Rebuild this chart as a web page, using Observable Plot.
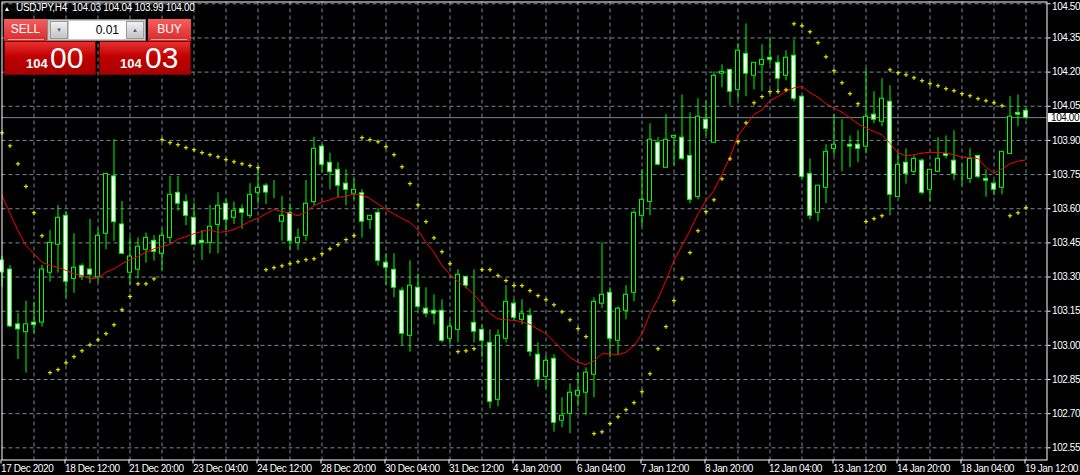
<!DOCTYPE html>
<html>
<head>
<meta charset="utf-8">
<script src="https://cdn.jsdelivr.net/npm/d3@7"></script>
<script src="https://cdn.jsdelivr.net/npm/@observablehq/plot@0.6"></script>
<style>
html, body { margin: 0; padding: 0; background: #000; }
#wrap { position: relative; width: 1080px; height: 475px; overflow: hidden; background: #000; font-family: "Liberation Sans", Arial, sans-serif; }
#wrap svg { position: absolute; left: 0; top: 0; }
#wrap svg text { letter-spacing: -0.4px; }
.abs { position: absolute; box-sizing: border-box; }
.title { left: 16px; top: 3px; font-size: 10px; line-height: 10px; color: #fff; white-space: pre; letter-spacing: -0.3px; }
.tri { left: 5px; top: 7px; width: 0; height: 0; border-left: 2.7px solid transparent; border-right: 2.7px solid transparent; border-bottom: 4px solid #fff; }
.btn { top: 19px; width: 43px; height: 22px; background: linear-gradient(#f45e5e, #d92a2a); color: #fff; font-size: 12px; line-height: 20px; text-align: center; }
.uline { top: 39px; height: 1px; width: 36px; background: #f2a5a5; }
.lot { left: 47px; top: 19px; width: 99px; height: 22px; background: #c9c9c9; border: 1px solid #8a8a8a; }
.arr { top: 21px; width: 18px; height: 18px; background: linear-gradient(#f0f0f0, #c4c4c4); border: 1px solid #9a9a9a; color: #4a5f8a; font-size: 6px; line-height: 16px; text-align: center; }
.field { left: 69px; top: 21px; width: 57px; height: 18px; background: #fff; color: #000; font-size: 12px; line-height: 18px; text-align: right; padding-right: 7px; }
.pbox { top: 41px; width: 92px; height: 34px; background: linear-gradient(#e83030, #c00000 45%, #a80000); border: 1px solid #700; }
.big { font-size: 30px; line-height: 30px; color: #fff; top: 43px; }
.small { font-size: 13px; line-height: 13px; color: #fff; font-weight: bold; top: 57px; }
.plabel { left: 1048px; width: 32px; height: 9px; background: #fff; color: #000; font-size: 10px; line-height: 9px; padding-left: 3px; letter-spacing: -0.4px; }
</style>
</head>
<body>
<div id="wrap"></div>
<script>
// ---- data (USDJPY, H4) ----
const opens = [103.373,103.333,103.092,103.058,103.100,103.100,103.319,103.442,103.569,103.292,
103.348,103.333,103.299,103.490,103.742,103.531,103.319,103.332,103.420,103.459,
103.402,103.472,103.670,103.630,103.560,103.459,103.450,103.529,103.622,103.560,
103.598,103.569,103.670,103.701,103.683,103.543,103.582,103.450,103.481,103.629,
103.873,103.802,103.771,103.710,103.666,103.668,103.550,103.582,103.363,103.332,
103.240,103.042,103.253,103.161,103.152,103.152,103.029,103.068,103.301,103.099,
103.068,103.011,102.761,103.029,103.183,103.112,103.130,102.959,102.862,102.941,
102.669,102.699,102.779,102.792,102.871,103.183,103.231,103.020,103.152,103.231,
103.569,103.630,103.890,103.780,103.912,103.912,103.832,103.652,103.991,103.890,
104.193,104.210,104.122,104.280,104.184,104.232,104.263,104.241,104.184,104.272,
104.092,103.753,103.582,103.692,103.863,103.890,103.881,103.881,103.873,104.013,
103.982,104.070,103.651,103.802,103.762,103.811,103.683,103.762,103.841,103.811,
103.740,103.731,103.832,103.731,103.710,103.692,103.841,104.021,104.030];

const highs = [103.390,103.351,103.141,103.194,103.190,103.351,103.504,103.614,103.588,103.490,
103.358,103.553,103.512,103.753,103.903,103.632,103.475,103.472,103.493,103.482,
103.512,103.742,103.742,103.661,103.625,103.504,103.614,103.670,103.639,103.630,
103.617,103.710,103.780,103.710,103.724,103.655,103.622,103.512,103.724,103.914,
103.882,103.844,103.802,103.771,103.731,103.684,103.569,103.600,103.402,103.402,
103.253,103.371,103.314,103.253,103.222,103.200,103.112,103.332,103.301,103.332,
103.086,103.068,103.068,103.262,103.200,103.200,103.161,103.011,102.954,102.959,
102.770,102.831,102.880,102.901,103.209,103.450,103.253,103.169,103.262,103.591,
103.771,103.973,103.912,104.013,103.920,104.100,104.021,104.083,104.070,104.201,
104.232,104.210,104.324,104.412,104.241,104.320,104.346,104.272,104.294,104.342,
104.092,103.819,103.701,103.881,104.013,103.991,103.920,103.942,104.215,104.114,
104.171,104.140,103.846,103.863,103.832,103.819,103.771,103.912,103.920,103.942,
103.797,103.863,103.832,103.771,103.723,103.850,104.092,104.100,104.040];

const lows = [103.254,103.078,102.938,102.878,103.052,103.080,103.277,103.317,103.209,103.229,
103.285,103.270,103.277,103.420,103.457,103.402,103.263,103.292,103.361,103.370,
103.329,103.446,103.589,103.526,103.440,103.373,103.402,103.402,103.501,103.531,
103.510,103.556,103.619,103.619,103.644,103.457,103.417,103.417,103.457,103.614,
103.760,103.683,103.648,103.613,103.639,103.471,103.509,103.348,103.263,103.209,
102.999,102.970,103.156,103.121,103.090,103.011,103.002,103.011,103.248,103.011,
102.945,102.721,102.730,103.011,103.112,103.090,102.950,102.816,102.808,102.619,
102.638,102.612,102.730,102.691,102.770,103.161,102.945,102.959,103.112,103.191,
103.521,103.569,103.793,103.780,103.789,103.811,103.622,103.639,103.920,103.890,
104.131,104.052,104.078,104.092,104.122,104.114,104.232,104.114,104.162,104.070,
103.731,103.551,103.543,103.622,103.832,103.762,103.780,103.802,103.841,103.973,
103.960,103.569,103.651,103.708,103.753,103.661,103.630,103.762,103.819,103.723,
103.701,103.710,103.731,103.651,103.657,103.661,103.841,103.960,103.990];

const closes = [103.320,103.083,103.070,103.092,103.089,103.333,103.450,103.560,103.279,103.341,
103.302,103.310,103.481,103.753,103.541,103.402,103.390,103.433,103.472,103.411,
103.481,103.661,103.622,103.569,103.442,103.450,103.521,103.613,103.551,103.591,
103.582,103.661,103.692,103.671,103.683,103.569,103.457,103.472,103.622,103.863,
103.793,103.760,103.701,103.683,103.683,103.543,103.569,103.371,103.341,103.253,
103.051,103.262,103.169,103.139,103.139,103.020,103.082,103.310,103.262,103.060,
103.020,102.752,103.042,103.191,103.121,103.139,102.972,102.849,102.932,102.660,
102.691,102.792,102.800,102.880,103.191,103.222,103.029,103.161,103.222,103.582,
103.639,103.903,103.793,103.903,103.920,103.819,103.639,104.004,103.951,104.184,
104.201,104.114,104.294,104.193,104.241,104.254,104.254,104.171,104.263,104.083,
103.740,103.569,103.701,103.850,103.881,103.890,103.873,103.863,104.004,103.991,
104.083,103.661,103.793,103.753,103.819,103.670,103.771,103.819,103.832,103.753,
103.740,103.819,103.740,103.723,103.683,103.850,104.004,104.013,104.000];

// Parabolic SAR
const sar = [103.933,103.876,103.797,103.698,103.582,103.481,102.880,102.893,102.923,102.950,
102.976,103.002,103.024,103.051,103.090,103.156,103.215,103.270,103.270,103.292,
103.903,103.890,103.881,103.868,103.859,103.846,103.837,103.828,103.815,103.806,
103.797,103.789,103.780,103.332,103.341,103.349,103.358,103.367,103.376,103.380,
103.402,103.424,103.442,103.464,103.481,103.912,103.903,103.894,103.872,103.837,
103.784,103.710,103.617,103.543,103.472,103.411,103.358,102.972,102.976,102.985,
103.332,103.332,103.306,103.284,103.262,103.262,103.240,103.218,103.200,103.178,
103.147,103.112,103.073,103.038,102.612,102.620,102.656,102.686,102.717,102.748,
102.796,102.875,102.985,103.082,103.196,103.292,103.407,103.503,103.587,103.639,
103.731,103.819,103.894,103.977,104.065,104.092,104.114,104.114,104.122,104.412,
104.403,104.377,104.329,104.267,104.206,104.153,104.105,104.061,103.543,103.556,
103.569,104.210,104.197,104.188,104.175,104.162,104.149,104.140,104.127,104.118,
104.105,104.096,104.083,104.074,104.065,104.052,103.569,103.582,103.604];

// Moving average
const ma = [103.658,103.579,103.504,103.439,103.402,103.365,103.351,103.343,103.329,103.314,
103.307,103.292,103.297,103.321,103.336,103.358,103.376,103.390,103.409,103.424,
103.434,103.443,103.466,103.478,103.490,103.501,103.507,103.496,103.500,103.509,
103.526,103.545,103.558,103.578,103.597,103.588,103.580,103.569,103.585,103.614,
103.629,103.639,103.651,103.654,103.666,103.660,103.645,103.621,103.597,103.577,
103.557,103.540,103.507,103.452,103.408,103.351,103.311,103.280,103.256,103.223,
103.184,103.139,103.116,103.112,103.110,103.103,103.092,103.070,103.051,103.017,
102.980,102.947,102.926,102.915,102.932,102.963,102.963,102.959,102.970,102.999,
103.051,103.139,103.204,103.285,103.373,103.439,103.504,103.578,103.636,103.680,
103.753,103.826,103.922,103.966,104.014,104.034,104.075,104.093,104.116,104.131,
104.137,104.109,104.090,104.061,104.043,104.024,103.999,103.973,103.955,103.939,
103.925,103.887,103.846,103.832,103.837,103.844,103.848,103.847,103.844,103.837,
103.826,103.824,103.821,103.782,103.756,103.775,103.797,103.809,103.815];

const yTicks = [104.50,104.35,104.20,104.05,103.90,103.75,103.60,103.45,103.30,103.15,103.00,102.85,102.70,102.55];
const xTickIdx = [0,8,16,24,32,40,48,56,64,72,80,88,96,104,112,120,128];
const xTickLabels = ["17 Dec 2020","18 Dec 12:00","21 Dec 20:00","23 Dec 04:00","24 Dec 12:00","28 Dec 20:00",
  "30 Dec 04:00","31 Dec 12:00","4 Jan 20:00","6 Jan 04:00","7 Jan 12:00","8 Jan 20:00","12 Jan 04:00",
  "13 Jan 12:00","14 Jan 20:00","18 Jan 04:00","19 Jan 12:00"];
const gridIdx = [4,8,12,16,20,24,28,32,36,40,44,48,52,56,60,64,68,72,76,80,84,88,92,96,100,104,108,112,116,120,124,128];
const symbol = "USDJPY,H4";
const lot = "0.01";
const bidPrice = 104.00, askPrice = 104.03;

// ---- build ----
const bars = opens.map((o, i) => ({i, o, h: highs[i], l: lows[i], c: closes[i], sar: sar[i], ma: ma[i]}));
const last = bars[bars.length - 1];
const topTick = yTicks[0];

const grid = "#778899";
const chart = Plot.plot({
  width: 1080,
  height: 475,
  marginLeft: 1.5,
  marginRight: 33.5,
  marginTop: 1.5,
  marginBottom: 15.5,
  style: {background: "#000", color: "#fff", fontFamily: "Liberation Sans, Arial, sans-serif", fontSize: "10px", overflow: "visible"},
  x: {domain: [0, 130.625]},
  y: {domain: [102.4965, 104.5079]},
  marks: [
    Plot.ruleY(yTicks, {stroke: grid, strokeDasharray: "4,3"}),
    Plot.ruleX(gridIdx, {stroke: grid, strokeDasharray: "4,3"}),
    Plot.ruleY([last.c], {stroke: grid}),
    Plot.ruleX(bars, {x: "i", y1: "l", y2: "h", stroke: "#00ff00"}),
    Plot.rect(bars, {x1: d => d.i - 0.25, x2: d => d.i + 0.25, y1: "o", y2: "c",
      fill: d => d.c > d.o ? "#000" : "#fff", stroke: "#00ff00"}),
    Plot.line(bars, {x: "i", y: "ma", stroke: "#ff0000", strokeWidth: 1}),
    Plot.dot(bars, {x: "i", y: "sar", symbol: "plus", r: 1.5, stroke: "#ffff00", strokeWidth: 1}),
    Plot.frame({stroke: "#fff"}),
    Plot.axisY(yTicks, {anchor: "right", tickSize: 3, tickPadding: 2, label: null,
      tickFormat: d => d === topTick ? "" : d.toFixed(2)}),
    // top price label nudged down so it stays inside the picture
    Plot.text([topTick], {y: d => d, frameAnchor: "right", dx: 5, dy: 3, textAnchor: "start",
      text: d => d.toFixed(2), fill: "#fff"}),
    Plot.axisX(xTickIdx, {anchor: "bottom", tickSize: 4, tickPadding: 1, label: null,
      tickFormat: i => xTickLabels[xTickIdx.indexOf(i)], textAnchor: "start", dx: -1})
  ]
});

const wrap = document.getElementById("wrap");
wrap.appendChild(chart);

function el(cls, style, text) {
  const d = document.createElement("div");
  d.className = "abs " + cls;
  Object.assign(d.style, style || {});
  if (text != null) d.textContent = text;
  wrap.appendChild(d);
  return d;
}

// title line
el("tri");
el("title", {}, symbol + "  " + [last.o, last.h, last.l, last.c].map(v => v.toFixed(2)).join(" "));

// one-click trading panel
el("btn", {left: "4px"}, "SELL");
el("uline", {left: "8px"});
el("lot");
el("arr", {left: "50px"}, "▼");
el("field", {}, lot);
el("arr", {left: "126px"}, "▲");
el("btn", {left: "148px"}, "BUY");
el("uline", {left: "151px"});
el("pbox", {left: "4px"});
el("pbox", {left: "99px"});
const bidStr = bidPrice.toFixed(2).split("."), askStr = askPrice.toFixed(2).split(".");
el("small", {left: "26px"}, bidStr[0]);
el("big", {left: "50px"}, bidStr[1]);
el("small", {left: "120px"}, askStr[0]);
el("big", {left: "145px"}, askStr[1]);

// current price label on the price scale
const yPos = chart.scale("y").apply(last.c);
el("plabel", {top: (yPos - 4.5) + "px"}, last.c.toFixed(2));
</script>
</body>
</html>
